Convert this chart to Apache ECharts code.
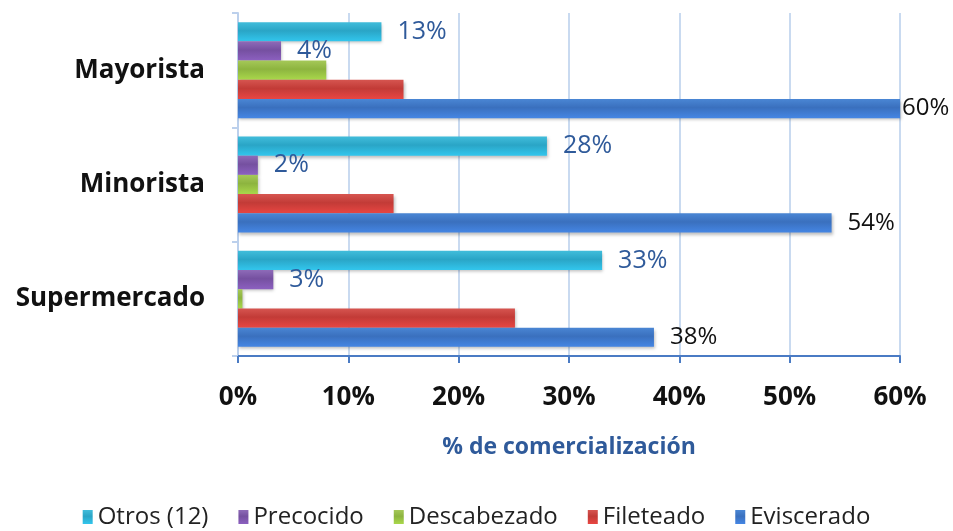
<!DOCTYPE html>
<html>
<head>
<meta charset="utf-8">
<script src="https://cdn.jsdelivr.net/npm/echarts@6/dist/echarts.min.js"></script>
<style>
  html, body { margin: 0; padding: 0; background: #fff; }
  #chart { width: 953px; height: 531px; }
</style>
</head>
<body>
<div id="chart"></div>
<script>
// 类别（从下到上）
const categories = ['Supermercado', 'Minorista', 'Mayorista']
// 各系列数值（%）
const eviscerado = [37.7, 53.8, 60]
const fileteado = [25.1, 14.1, 15]
const descabezado = [0.4, 1.8, 8]
const precocido = [3.2, 1.8, 3.9]
const otros = [33, 28, 13]
// 横轴刻度
const xTicks = [0, 10, 20, 30, 40, 50, 60]

const font = '"Open Sans", sans-serif'

// 渐变色
const grad = (top, bottom) =>
  new echarts.graphic.LinearGradient(0, 0, 0, 1, [
    { offset: 0, color: top },
    { offset: 0.45, color: bottom },
    { offset: 1, color: echarts.color.lift(bottom, -0.2) },
  ])

const pct = (p) => Math.round(p.value) + '%'

const makeSeries = (name, data, top, bottom, label) => ({
  name,
  type: 'bar',
  data,
  barGap: 0,
  barCategoryGap: '16%',
  itemStyle: {
    color: grad(top, bottom),
    shadowBlur: 3,
    shadowOffsetX: 1,
    shadowOffsetY: 2,
    shadowColor: 'rgba(0,0,0,0.25)',
  },
  label: label || { show: false },
})

const blueLabel = {
  show: true,
  position: 'right',
  distance: 16,
  color: '#2F5A9A',
  fontSize: 25,
  fontFamily: font,
  formatter: pct,
}

// 最大值标签贴近右边界
const evData = eviscerado.map((v) =>
  v === xTicks[xTicks.length - 1] ? { value: v, label: { distance: 2 } } : v
)

const myChart = echarts.init(document.getElementById('chart'))
myChart.setOption({
  animation: false,
  grid: { left: 238, right: 53, top: 13, bottom: 175 },
  legend: {
    bottom: -3,
    left: 'center',
    data: ['Otros (12)', 'Precocido', 'Descabezado', 'Fileteado', 'Eviscerado'],
    icon: 'rect',
    itemWidth: 10,
    itemHeight: 14,
    itemGap: 30,
    textStyle: { fontSize: 24, color: '#222', fontFamily: font },
  },
  xAxis: {
    type: 'value',
    min: xTicks[0],
    max: xTicks[xTicks.length - 1],
    interval: 10,
    name: '% de comercialización',
    nameLocation: 'middle',
    nameGap: 80,
    nameTextStyle: { color: '#2F5A9A', fontSize: 23, fontWeight: 'bold', fontFamily: font },
    axisLine: { show: true, lineStyle: { color: '#4A7BC4', width: 2 } },
    axisTick: { show: true, length: 7, lineStyle: { color: '#4A7BC4', width: 2 } },
    axisLabel: {
      margin: 29,
      fontSize: 26,
      fontWeight: 'bold',
      color: '#111',
      fontFamily: font,
      formatter: '{value}%',
    },
    splitLine: { show: true, lineStyle: { color: '#C9DAF0', width: 2 } },
  },
  yAxis: {
    type: 'category',
    data: categories,
    axisLine: { show: true, lineStyle: { color: '#BCD0EC', width: 2 } },
    axisTick: { show: true, length: 6, lineStyle: { color: '#BCD0EC', width: 2 } },
    axisLabel: {
      margin: 33,
      fontSize: 26,
      fontWeight: 'bold',
      color: '#111',
      fontFamily: font,
    },
  },
  // 第一个系列位于每组的最上方
  series: [
    makeSeries('Otros (12)', otros, '#41BDDB', '#2AA5C6', blueLabel),
    makeSeries('Precocido', precocido, '#8E6BB8', '#7550A0', blueLabel),
    makeSeries('Descabezado', descabezado, '#A5C858', '#8DB43F'),
    makeSeries('Fileteado', fileteado, '#D65550', '#C23B37'),
    makeSeries('Eviscerado', evData, '#4A86D4', '#3A70BE', {
      show: true,
      position: 'right',
      distance: 16,
      color: '#111',
      fontSize: 24,
      fontFamily: font,
      formatter: pct,
    }),
  ],
})
</script>
</body>
</html>
